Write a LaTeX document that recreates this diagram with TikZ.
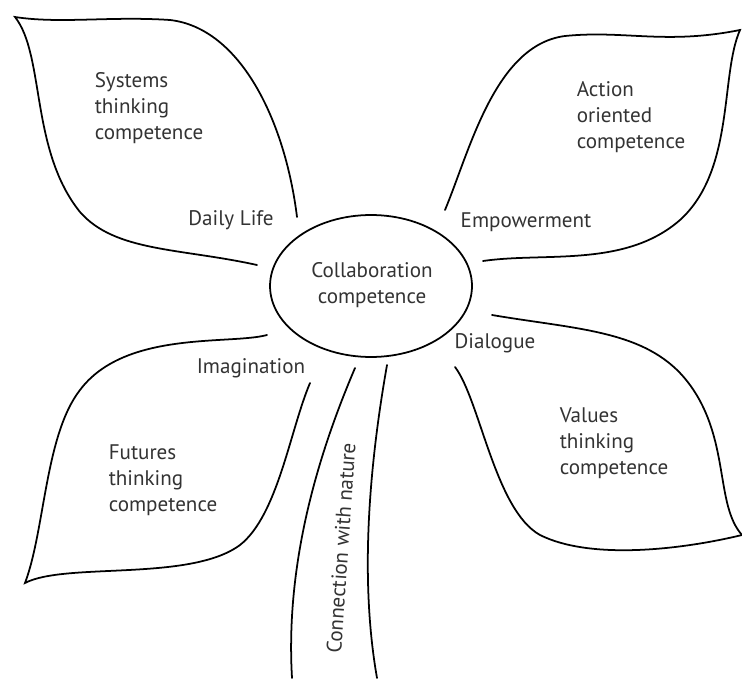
\documentclass[tikz,border=0pt]{standalone}
\usepackage{fontspec}
\setmainfont{PT Sans}
\usetikzlibrary{shapes.geometric}
\tikzset{
	leaf/.style={line width=1pt,line cap=round},
	lbl/.style={text=black!80,font=\fontsize{12}{14.8}\selectfont,inner sep=0pt},
	blk/.style={lbl,align=left}
}
\begin{document}
	\begin{tikzpicture}[x=0.02cm,y=-0.02cm]
		\useasboundingbox (0,0) rectangle (742,678);
		\draw[leaf] (297,217) .. controls (285,120) and (240,28) .. (170,20) .. controls (110,16) and (60,24) .. (15,17) .. controls (45,55) and (30,150) .. (80,212) .. controls (115,252) and (180,248) .. (257,265);
		\draw[leaf] (445,210) .. controls (470,150) and (495,45) .. (565,36) .. controls (625,30) and (665,45) .. (740,30) .. controls (720,75) and (735,170) .. (680,220) .. controls (625,268) and (545,252) .. (483,261);
		\draw[leaf] (267,335) .. controls (230,345) and (125,330) .. (80,390) .. controls (45,435) and (45,530) .. (25,583) .. controls (65,562) and (190,582) .. (240,545) .. controls (278,515) and (290,430) .. (310,383);
		\draw[leaf] (492,315) .. controls (580,330) and (650,330) .. (690,385) .. controls (730,440) and (715,505) .. (742,535) .. controls (680,550) and (590,560) .. (540,535) .. controls (495,510) and (480,400) .. (455,367);
		\draw[leaf] (355,368) .. controls (320,450) and (285,560) .. (292,678);
		\draw[leaf] (387,365) .. controls (372,450) and (358,570) .. (377,678);
		\node[draw,line width=1pt,ellipse,minimum width=4.04cm,minimum height=2.84cm] (collab) at (371,286) {};
		\node[lbl,align=center] (collabtxt) at (372,285) {Collaboration\\competence};
		\node[blk] (systems) at (149,108) {Systems\\thinking\\competence};
		\node[blk] (action) at (631,117) {Action\\oriented\\competence};
		\node[blk] (futures) at (163,480) {Futures\\thinking\\competence};
		\node[blk] (values) at (614,443) {Values\\thinking\\competence};
		\node[lbl] (daily) at (231,220) {Daily Life};
		\node[lbl] (empower) at (526,222) {Empowerment};
		\node[lbl] (imag) at (251,368) {Imagination};
		\node[lbl] (dialog) at (495,343) {Dialogue};
		\node[lbl,rotate=86] (nature) at (341,548) {Connection with nature};
	\end{tikzpicture}
\end{document}
